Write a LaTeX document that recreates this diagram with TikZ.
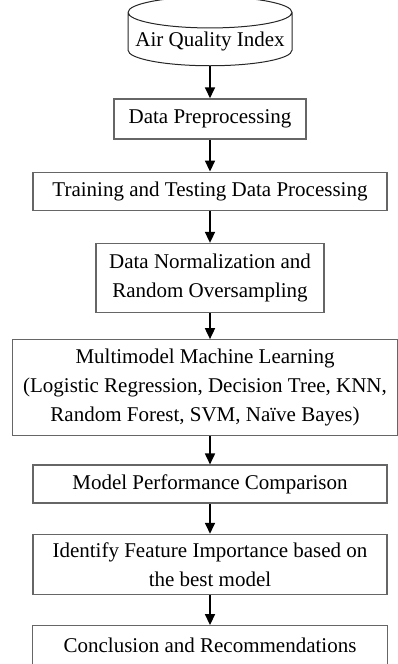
\documentclass[tikz,border=0pt]{standalone}
\usepackage{fontspec}
\setmainfont{Liberation Serif}
\usetikzlibrary{arrows.meta, positioning, shapes.geometric}

\begin{document}
\begin{tikzpicture}[x=1pt,y=1pt,
  box/.style={draw=black!60,line width=1.3pt,fill=white,align=center,
              font=\fontsize{21}{29}\selectfont,inner sep=1pt},
  flow/.style={-{Triangle[length=11pt,width=10pt]},line width=1.7pt}]
\useasboundingbox (0,0) rectangle (398,-664);

\node[cylinder,shape border rotate=90,aspect=0.2,draw=black!85,line width=1pt,
      minimum width=164pt,minimum height=69pt,
      font=\fontsize{21}{29}\selectfont] (aqi) at (210,-41.5)
  {\raisebox{-6pt}{Air Quality Index}};

\node[box,minimum width=192pt,minimum height=40pt,below=32pt of aqi] (prep)
  {Data Preprocessing};
\node[box,minimum width=354pt,minimum height=38pt,below=32pt of prep] (split)
  {Training and Testing Data Processing};
\node[box,minimum width=228pt,minimum height=69pt,below=32pt of split] (norm)
  {Data Normalization and\\Random Oversampling};
% widest box, shifted a little to the left
\node[box,minimum width=385pt,minimum height=96pt,below=26pt of norm,xshift=-5pt] (mml)
  {Multimodel Machine Learning\\(Logistic Regression, Decision Tree, KNN,\\Random Forest, SVM, Naïve Bayes)};
\node[box,minimum width=354pt,minimum height=38pt,below=28pt of mml,xshift=5pt] (comp)
  {Model Performance Comparison};
\node[box,minimum width=354pt,minimum height=60pt,below=30pt of comp] (feat)
  {Identify Feature Importance based on\\the best model};
\node[box,minimum width=355pt,minimum height=40pt,below=30pt of feat] (concl)
  {Conclusion and Recommendations};

\draw[flow] (aqi.south) -- (prep.north);
\draw[flow] (prep.south) -- (split.north);
\draw[flow] (split.south) -- (norm.north);
\draw[flow] (norm.south) -- (norm.south |- mml.north);
\draw[flow] (mml.south -| comp.north) -- (comp.north);
\draw[flow] (comp.south) -- (feat.north);
\draw[flow] (feat.south) -- (concl.north);
\end{tikzpicture}
\end{document}
